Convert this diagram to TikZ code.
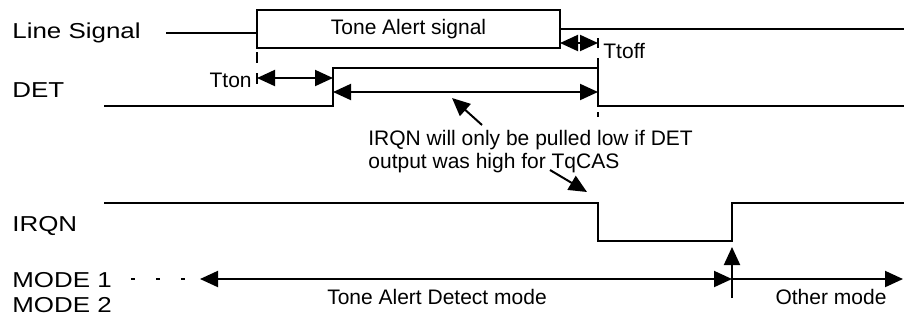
\documentclass[tikz,border=0pt]{standalone}
\usepackage{fontspec}
\setmainfont{Liberation Sans}
\usetikzlibrary{arrows.meta,positioning}

\newcommand{\stretched}[1]{\scalebox{1.2}[1]{#1}}

\tikzset{
  wave/.style={line width=1pt},
  dim/.style={line width=1pt,{Triangle[length=9pt,width=8pt]}-{Triangle[length=9pt,width=8pt]}},
  pointer/.style={line width=1pt,-{Triangle[length=9pt,width=8pt]}},
  siglabel/.style={font=\fontsize{10.8}{12}\selectfont, anchor=base west, inner sep=0pt},
  note/.style={font=\fontsize{10.5}{11.5}\selectfont, inner sep=0pt},
}

\begin{document}
\begin{tikzpicture}[x=0.5pt,y=-0.5pt]
    \useasboundingbox (0,0) rectangle (904,323);

    \node[siglabel] (line) at (12,38) {\stretched{Line Signal}};
    \node[siglabel] (det) at (12,97) {\stretched{DET}};
    \node[siglabel] (irqn) at (12,231) {\stretched{IRQN}};
    \node[siglabel] (mode1) at (12,287) {\stretched{MODE 1}};
    \node[siglabel] (mode2) at (12,312) {\stretched{MODE 2}};

    % line signal
    \node[draw, wave, note, minimum width=151.5pt, minimum height=19pt] (alert) at (408.5,29) {Tone Alert signal};
    \coordinate (ls0) at (166,33);
    \coordinate (ls1) at (904,29);
    \draw[wave] (ls0) -- (ls0 -| alert.west);
    \draw[wave] (alert.east) -- (ls1);

    % DET and IRQN
    \draw[wave] (104,106) -- (333,106) -- (333,68) -- (598,68) -- (598,106) -- (904,106);
    \draw[wave] (104,203) -- (598,203) -- (598,241) -- (732,241) -- (732,203) -- (904,203);

    \draw[wave] (257,52) -- (257,63) (257,73) -- (257,84);
    \draw[wave] (598,38) -- (598,48) (598,58) -- (598,68) (598,112) -- (598,117);

    % timings
    \coordinate (tton0) at (257,78);
    \coordinate (tton1) at (333,78);
    \draw[dim] (tton0) -- (tton1);
    \node[note, anchor=base east] (tton) at (252,87) {Tton};

    \coordinate (ttoff0) at (560,43);
    \coordinate (ttoff1) at (598,43);
    \draw[dim] (ttoff0) -- (ttoff1);
    \node[note, anchor=base west] (ttoff) at (603,58) {Ttoff};

    \coordinate (tq0) at (333,92);
    \coordinate (tq1) at (598,92);
    \draw[dim] (tq0) -- (tq1);

    \node[note, anchor=north west, align=left] (cond) at (368,130) {IRQN will only be pulled low if DET\\output was high for TqCAS};
    \coordinate (p0) at (482,125);
    \coordinate (p1) at (452,98);
    \draw[pointer] (p0) -- (p1);
    \coordinate (q0) at (550,170);
    \coordinate (q1) at (587,192);
    \draw[pointer] (q0) -- (q1);

    % modes
    \draw[wave, dash pattern=on 1.75pt off 10.75pt] (131,279) -- (186,279);
    \coordinate (m0) at (200,279);
    \coordinate (m1) at (732,279);
    \coordinate (m2) at (903,279);
    \draw[dim] (m0) -- (m1);
    \draw[pointer] (m1) -- (m2);
    \coordinate (sw0) at (732,298);
    \coordinate (sw1) at (732,247);
    \draw[pointer] (sw0) -- (sw1);

    \node[note, anchor=base] (detect) at (437,304) {Tone Alert Detect mode};
    \node[note, anchor=base] (other) at (831,304) {Other mode};

\end{tikzpicture}
\end{document}
